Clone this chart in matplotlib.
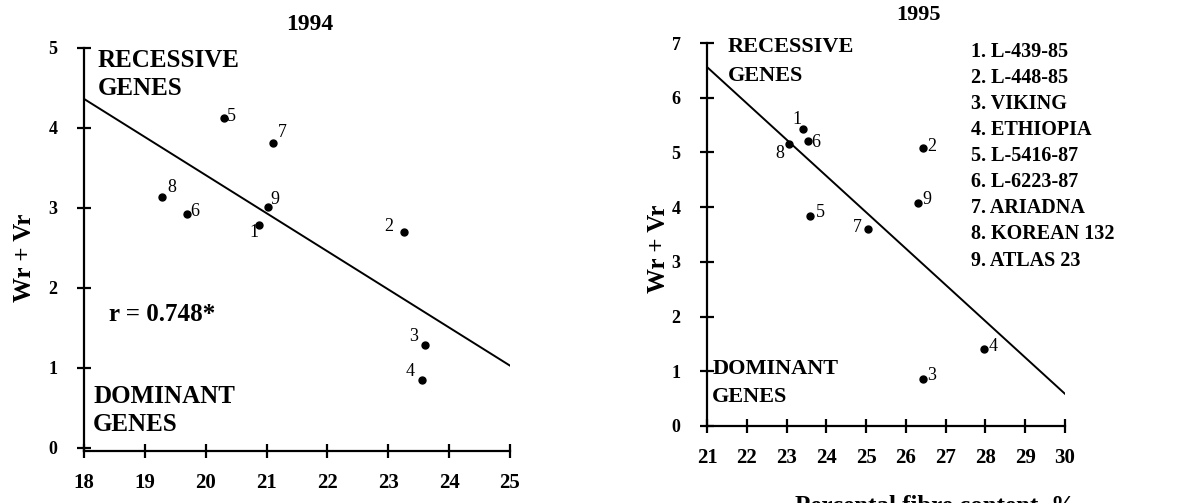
import numpy as np
import matplotlib
matplotlib.use('Agg')
import matplotlib.pyplot as plt

plt.rcParams['font.family'] = ['Liberation Serif', 'DejaVu Serif']

# genotype numbers and names
numbers = ['1', '2', '3', '4', '5', '6', '7', '8', '9']
names = ['L-439-85', 'L-448-85', 'VIKING', 'ETHIOPIA', 'L-5416-87',
         'L-6223-87', 'ARIADNA', 'KOREAN 132', 'ATLAS 23']

# 1994: fibre content vs Wr + Vr
fibre_94 = [20.88, 23.25, 23.60, 23.55, 20.30, 19.70, 21.10, 19.28, 21.02]
wrvr_94 = [2.79, 2.70, 1.29, 0.85, 4.13, 2.93, 3.81, 3.14, 3.01]

# 1995
fibre_95 = [23.41, 26.43, 26.43, 27.96, 23.60, 23.54, 25.05, 23.06, 26.30]
wrvr_95 = [5.43, 5.09, 0.85, 1.40, 3.84, 5.21, 3.60, 5.15, 4.07]

xticks_94 = [18, 19, 20, 21, 22, 23, 24, 25]
yticks_94 = [0, 1, 2, 3, 4, 5]
xticks_95 = [21, 22, 23, 24, 25, 26, 27, 28, 29, 30]
yticks_95 = [0, 1, 2, 3, 4, 5, 6, 7]

# label offsets in pixels (dx, dy) for each point number
offs_94 = [(-5, -8), (-15, 5), (-11, 8), (-12, 8), (7, 1), (7, 2),
           (10, 11), (10, 9), (7, 8)]
offs_95 = [(-6, 9), (9, 1), (9, 4), (9, 3), (10, 3), (8, -2),
           (-11, 2), (-9, -9), (9, 4)]


def draw_panel(ax, x, y, offs, xlim, ylim, xticks, yticks):
    # regression line from least squares
    k, b = np.polyfit(x, y, 1)
    xx = np.array(xlim)
    ax.plot(xx, k * xx + b, color='black', lw=1.4, zorder=2)
    ax.plot(x, y, 'o', color='black', ms=5, zorder=3)
    for xi, yi, lab, (dx, dy) in zip(x, y, numbers, offs):
        ax.annotate(lab, (xi, yi), xytext=(dx, dy), textcoords='offset pixels',
                    ha='center', va='center', fontsize=13)

    ax.set_xlim(*xlim)
    ax.set_ylim(*ylim)
    ax.set_xticks(xticks)
    ax.set_yticks(yticks)
    for s in ['top', 'right']:
        ax.spines[s].set_visible(False)
    for s in ['left', 'bottom']:
        ax.spines[s].set_linewidth(1.6)
    ax.tick_params(axis='both', direction='inout', length=10, width=1.6)
    ax.tick_params(axis='x', pad=11, labelsize=15)
    ax.tick_params(axis='y', pad=14, labelsize=13)
    for t in ax.get_xticklabels() + ax.get_yticklabels():
        t.set_fontweight('bold')
    ax.set_facecolor('none')


fig = plt.figure(figsize=(11.94, 5.03), dpi=100)

# 1994 panel
ax1 = fig.add_axes([84 / 1194, 1 - 451 / 503, 426 / 1194, 403 / 503])
draw_panel(ax1, fibre_94, wrvr_94, offs_94, (18, 25), (-0.04, 5),
           xticks_94, yticks_94)
fig.text(310 / 1194, 1 - 25 / 503, '1994', ha='center', va='center',
         fontsize=17, fontweight='bold')
ax1.text(18.23, 4.67, 'RECESSIVE\nGENES', ha='left', va='center',
         fontsize=18, fontweight='bold', linespacing=1.3)
ax1.text(18.15, 0.47, 'DOMINANT\nGENES', ha='left', va='center',
         fontsize=18, fontweight='bold', linespacing=1.3)
ax1.text(18.41, 1.67, 'r = 0.748*', ha='left', va='center',
         fontsize=18, fontweight='bold')
ax1.set_ylabel('Wr + Vr', fontsize=18, fontweight='bold')
ax1.yaxis.set_label_coords(-0.113, 0.479)

# 1995 panel
ax2 = fig.add_axes([707 / 1194, 1 - 426 / 503, 358 / 1194, 383 / 503])
draw_panel(ax2, fibre_95, wrvr_95, offs_95, (21, 30), (0, 7),
           xticks_95, yticks_95)
fig.text(918 / 1194, 1 - 15 / 503, '1995', ha='center', va='center',
         fontsize=16, fontweight='bold')
ax2.text(21.53, 6.66, 'RECESSIVE\nGENES', ha='left', va='center',
         fontsize=16, fontweight='bold', linespacing=1.55)
ax2.text(21.13, 0.79, 'DOMINANT\nGENES', ha='left', va='center',
         fontsize=16, fontweight='bold', linespacing=1.55)
legend_txt = '\n'.join(f'{n}. {s}' for n, s in zip(numbers, names))
ax2.text(27.63, 7.02, legend_txt, ha='left', va='top', fontsize=14.5,
         fontweight='bold', linespacing=1.405)
ax2.set_ylabel('Wr + Vr', fontsize=18, fontweight='bold')
ax2.yaxis.set_label_coords(-0.103, 0.462)

# x label of the right panel, cut at the bottom edge as in the source
fig.text(936 / 1194, 1 - 494 / 503, 'Percental fibre content, %',
         ha='center', va='top', fontsize=18, fontweight='bold')

fig.savefig('out.png', dpi=100)
